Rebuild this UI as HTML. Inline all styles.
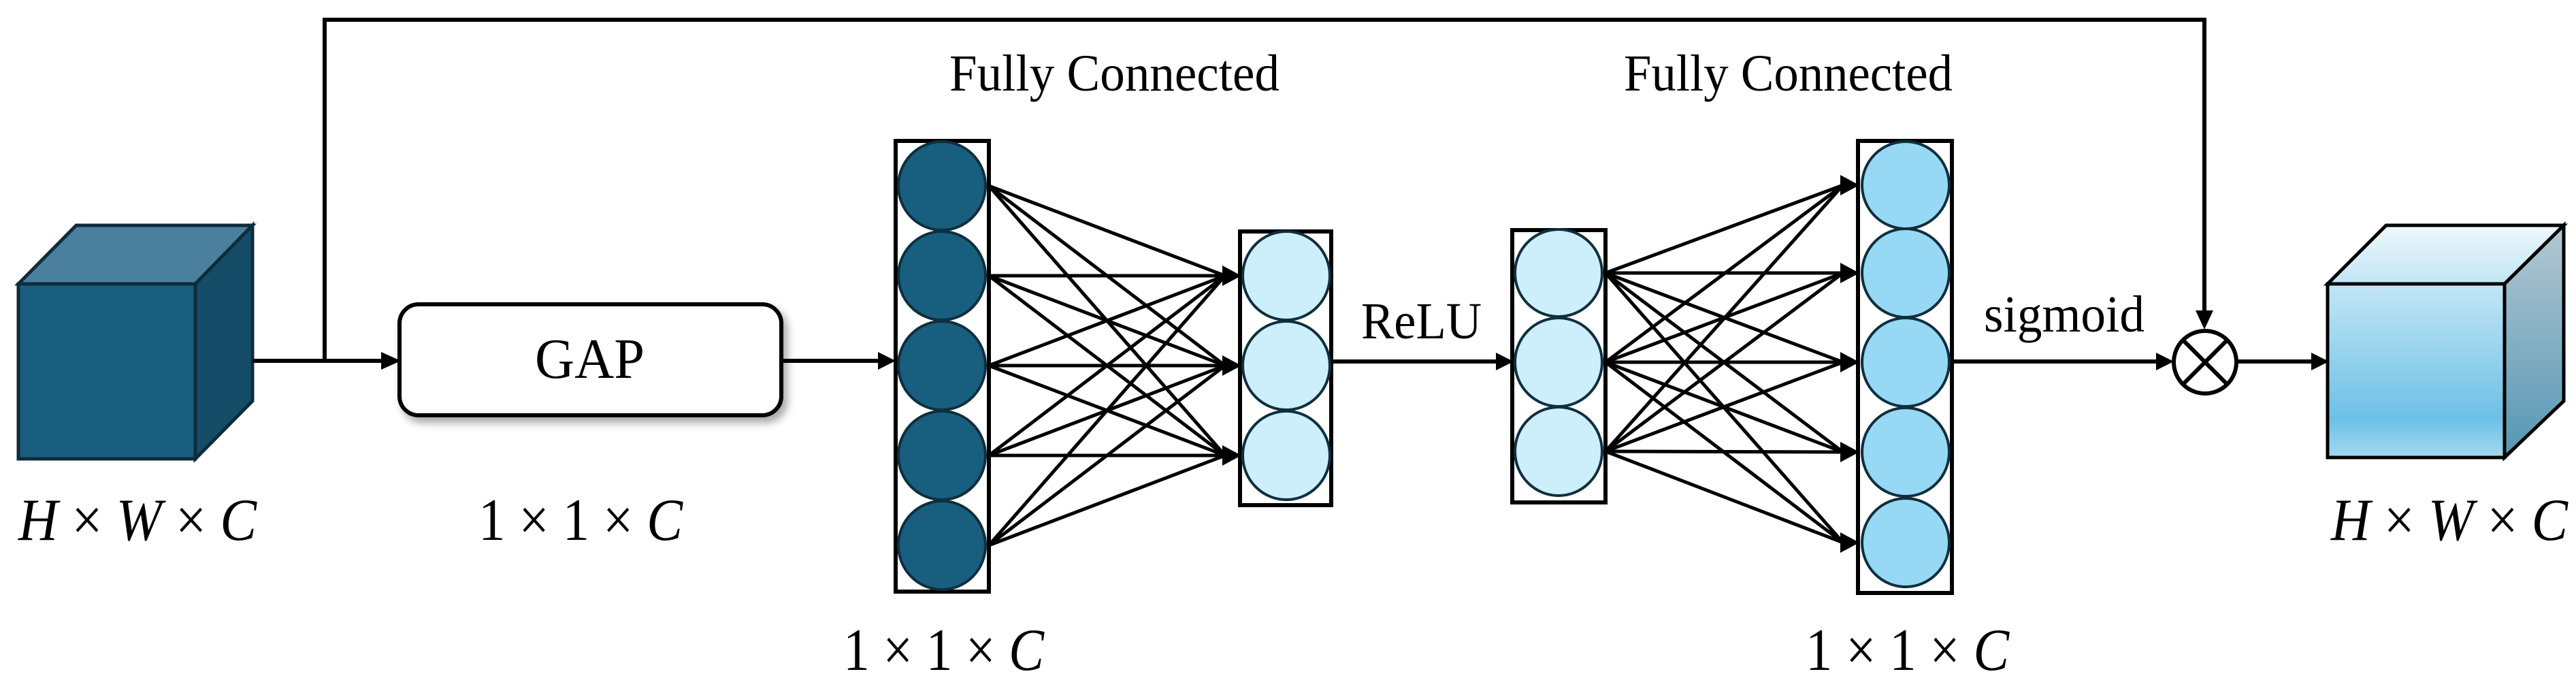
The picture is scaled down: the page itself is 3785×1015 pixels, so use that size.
<!DOCTYPE html>
<html><head><meta charset="utf-8"><style>
html,body{margin:0;padding:0;background:#fff;}
svg{display:block;}
text{font-family:"Liberation Serif",serif;fill:#000;}
</style></head><body>
<svg width="3785" height="1015" viewBox="0 0 3785 1015" xmlns="http://www.w3.org/2000/svg">
<defs>
<linearGradient id="gf" x1="0" y1="0" x2="0" y2="1">
<stop offset="0" stop-color="#c3e6f5"/><stop offset="0.78" stop-color="#6cc0e6"/><stop offset="1" stop-color="#a6d9f0"/>
</linearGradient>
<linearGradient id="gt" x1="0" y1="0" x2="0" y2="1">
<stop offset="0" stop-color="#eef8fc"/><stop offset="1" stop-color="#c2e5f4"/>
</linearGradient>
<linearGradient id="gs" x1="0" y1="0" x2="0" y2="1">
<stop offset="0" stop-color="#b4c8d2"/><stop offset="1" stop-color="#5596b4"/>
</linearGradient>
<filter id="sh" x="-10%" y="-10%" width="130%" height="140%">
<feDropShadow dx="6" dy="8" stdDeviation="6" flood-color="#000" flood-opacity="0.35"/>
</filter>
</defs>

<polyline points="477,530 477,29 3239,29 3239,470" fill="none" stroke="#000" stroke-width="6"/>
<path d="M3226,456 L3252,456 L3239,484 Z" fill="#000"/>

<polygon points="27,417 112,331 371,331 287,417" fill="#4a809d" stroke="#0e2c3b" stroke-width="5"/>
<polygon points="287,417 371,331 371,589 287,674" fill="#154c68" stroke="#0e2c3b" stroke-width="5"/>
<rect x="27" y="417" width="260" height="257" fill="#185e7f" stroke="#0e2c3b" stroke-width="5"/>

<line x1="371" y1="530" x2="562" y2="530" stroke="#000" stroke-width="6"/>
<path d="M560,517 L589,530 L560,543 Z" fill="#000"/>

<rect x="587" y="447" width="561" height="163" rx="28" fill="#fff" stroke="#000" stroke-width="6" filter="url(#sh)"/>
<text x="786" y="555" font-size="84" textLength="161" lengthAdjust="spacingAndGlyphs">GAP</text>

<line x1="1148" y1="530" x2="1292" y2="530" stroke="#000" stroke-width="6"/>
<path d="M1290,517 L1316,530 L1290,543 Z" fill="#000"/>

<g stroke="#000" stroke-width="5">
<line x1="1453" y1="273" x2="1800" y2="405"/><line x1="1453" y1="273" x2="1800" y2="537"/><line x1="1453" y1="273" x2="1800" y2="669"/>
<line x1="1453" y1="405" x2="1800" y2="405"/><line x1="1453" y1="405" x2="1800" y2="537"/><line x1="1453" y1="405" x2="1800" y2="669"/>
<line x1="1453" y1="537" x2="1800" y2="405"/><line x1="1453" y1="537" x2="1800" y2="537"/><line x1="1453" y1="537" x2="1800" y2="669"/>
<line x1="1453" y1="669" x2="1800" y2="405"/><line x1="1453" y1="669" x2="1800" y2="537"/><line x1="1453" y1="669" x2="1800" y2="669"/>
<line x1="1453" y1="801" x2="1800" y2="405"/><line x1="1453" y1="801" x2="1800" y2="537"/><line x1="1453" y1="801" x2="1800" y2="669"/>
</g>
<g fill="#000">
<path d="M1796,390 L1824,405 L1796,420 Z"/><path d="M1796,522 L1824,537 L1796,552 Z"/><path d="M1796,654 L1824,669 L1796,684 Z"/>
</g>

<rect x="1316" y="207" width="137" height="662" fill="#fff" stroke="#000" stroke-width="6"/>
<g fill="#185e7f" stroke="#0f2f3e" stroke-width="4">
<ellipse cx="1384" cy="273" rx="64" ry="65"/><ellipse cx="1384" cy="405" rx="64" ry="65"/><ellipse cx="1384" cy="537" rx="64" ry="65"/><ellipse cx="1384" cy="669" rx="64" ry="65"/><ellipse cx="1384" cy="801" rx="64" ry="65"/>
</g>

<rect x="1822" y="340" width="134" height="402" fill="#fff" stroke="#000" stroke-width="6"/>
<g fill="#cdeefb" stroke="#0f2f3e" stroke-width="4">
<ellipse cx="1890" cy="405" rx="64" ry="65"/><ellipse cx="1890" cy="537" rx="64" ry="65"/><ellipse cx="1890" cy="669" rx="64" ry="65"/>
</g>

<text x="1395" y="133" font-size="76" textLength="485" lengthAdjust="spacingAndGlyphs">Fully Connected</text>
<text x="2000" y="497" font-size="76" textLength="177" lengthAdjust="spacingAndGlyphs">ReLU</text>

<line x1="1956" y1="531" x2="2200" y2="531" stroke="#000" stroke-width="6"/>
<path d="M2198,518 L2224,531 L2198,544 Z" fill="#000"/>

<g stroke="#000" stroke-width="5">
<line x1="2359" y1="401" x2="2708" y2="272"/><line x1="2359" y1="401" x2="2708" y2="401"/><line x1="2359" y1="401" x2="2708" y2="532"/><line x1="2359" y1="401" x2="2708" y2="664"/><line x1="2359" y1="401" x2="2708" y2="797"/>
<line x1="2359" y1="532" x2="2708" y2="272"/><line x1="2359" y1="532" x2="2708" y2="401"/><line x1="2359" y1="532" x2="2708" y2="532"/><line x1="2359" y1="532" x2="2708" y2="664"/><line x1="2359" y1="532" x2="2708" y2="797"/>
<line x1="2359" y1="663" x2="2708" y2="272"/><line x1="2359" y1="663" x2="2708" y2="401"/><line x1="2359" y1="663" x2="2708" y2="532"/><line x1="2359" y1="663" x2="2708" y2="664"/><line x1="2359" y1="663" x2="2708" y2="797"/>
</g>
<g fill="#000">
<path d="M2704,257 L2732,272 L2704,287 Z"/><path d="M2704,386 L2732,401 L2704,416 Z"/><path d="M2704,517 L2732,532 L2704,547 Z"/><path d="M2704,649 L2732,664 L2704,679 Z"/><path d="M2704,782 L2732,797 L2704,812 Z"/>
</g>

<rect x="2222" y="338" width="137" height="400" fill="#fff" stroke="#000" stroke-width="6"/>
<g fill="#cdeefb" stroke="#0f2f3e" stroke-width="4">
<ellipse cx="2290" cy="401" rx="64" ry="64"/><ellipse cx="2290" cy="532" rx="64" ry="65"/><ellipse cx="2290" cy="663" rx="64" ry="65"/>
</g>

<rect x="2730" y="207" width="138" height="664" fill="#fff" stroke="#000" stroke-width="6"/>
<g fill="#97d9f5" stroke="#0f2f3e" stroke-width="4">
<ellipse cx="2800" cy="272" rx="64" ry="64"/><ellipse cx="2800" cy="401" rx="64" ry="65"/><ellipse cx="2800" cy="532" rx="64" ry="65"/><ellipse cx="2800" cy="664" rx="64" ry="65"/><ellipse cx="2800" cy="797" rx="64" ry="65"/>
</g>

<text x="2386" y="133" font-size="76" textLength="483" lengthAdjust="spacingAndGlyphs">Fully Connected</text>
<text x="2915" y="487" font-size="76" textLength="236" lengthAdjust="spacingAndGlyphs">sigmoid</text>

<line x1="2868" y1="531" x2="3170" y2="531" stroke="#000" stroke-width="6"/>
<path d="M3168,518 L3194,531 L3168,544 Z" fill="#000"/>

<circle cx="3240" cy="532" r="46" fill="#fff" stroke="#000" stroke-width="6"/>
<line x1="3208" y1="500" x2="3272" y2="564" stroke="#000" stroke-width="6"/>
<line x1="3272" y1="500" x2="3208" y2="564" stroke="#000" stroke-width="6"/>

<line x1="3286" y1="531" x2="3398" y2="531" stroke="#000" stroke-width="6"/>
<path d="M3396,518 L3422,531 L3396,544 Z" fill="#000"/>

<polygon points="3420,417 3506,331 3767,331 3680,417" fill="url(#gt)" stroke="#000" stroke-width="5"/>
<polygon points="3680,417 3767,331 3767,589 3680,672" fill="url(#gs)" stroke="#000" stroke-width="5"/>
<rect x="3420" y="417" width="260" height="255" fill="url(#gf)" stroke="#000" stroke-width="5"/>

<g font-size="88">
<text x="27" y="793" textLength="350" lengthAdjust="spacingAndGlyphs"><tspan font-style="italic">H</tspan> × <tspan font-style="italic">W</tspan> × <tspan font-style="italic">C</tspan></text>
<text x="703" y="793" textLength="300" lengthAdjust="spacingAndGlyphs">1 × 1 × <tspan font-style="italic">C</tspan></text>
<text x="1239" y="984" textLength="295" lengthAdjust="spacingAndGlyphs">1 × 1 × <tspan font-style="italic">C</tspan></text>
<text x="2653" y="984" textLength="299" lengthAdjust="spacingAndGlyphs">1 × 1 × <tspan font-style="italic">C</tspan></text>
<text x="3425" y="793" textLength="348" lengthAdjust="spacingAndGlyphs"><tspan font-style="italic">H</tspan> × <tspan font-style="italic">W</tspan> × <tspan font-style="italic">C</tspan></text>
</g>
</svg>
</body></html>
